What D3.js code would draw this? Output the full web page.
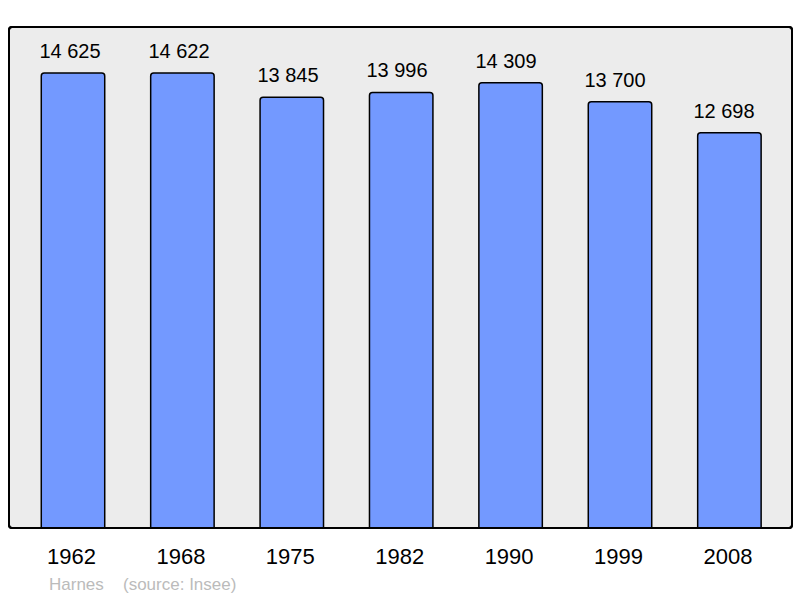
<!DOCTYPE html>
<html><head><meta charset="utf-8">
<script src="https://cdn.jsdelivr.net/npm/d3@7"></script>
<style>body{margin:0;background:#fff;}svg{display:block;font-family:"Liberation Sans",Arial,sans-serif;}</style>
</head><body>
<svg id="c" width="800" height="598"></svg>
<script>
const years = ["1962","1968","1975","1982","1990","1999","2008"];
const population = [14625,14622,13845,13996,14309,13700,12698];
const valueLabels = ["14 625","14 622","13 845","13 996","14 309","13 700","12 698"];
const footerName = "Harnes";
const footerSource = "(source: Insee)";

const svg = d3.select("#c");
const frame = {x0:9, y0:27, x1:792, y1:528};

svg.append("rect").attr("x",frame.x0).attr("y",frame.y0)
  .attr("width",frame.x1-frame.x0).attr("height",frame.y1-frame.y0)
  .attr("rx",3).attr("fill","#ececec").attr("stroke","#000").attr("stroke-width",2);

const x = d3.scaleBand().domain(years).range([18.3,784.1]).paddingInner(0.42).paddingOuter(0.21);
const xLab = d3.scaleBand().domain(years).range([15.5,778.5]).paddingInner(0.42).paddingOuter(0.21);
const y = d3.scaleLinear().domain([0,16100]).range([frame.y1,frame.y0]);

const data = years.map((yr,i)=>({yr, v:population[i], lab:valueLabels[i]}));

svg.selectAll("rect.bar").data(data).join("rect").attr("class","bar")
  .attr("x",d=>x(d.yr)).attr("y",d=>y(d.v))
  .attr("width",x.bandwidth()).attr("height",d=>frame.y1-y(d.v)+3)
  .attr("rx",3).attr("fill","#7399ff").attr("stroke","#000").attr("stroke-width",1.5);

svg.append("rect").attr("x",frame.x0).attr("y",frame.y0)
  .attr("width",frame.x1-frame.x0).attr("height",frame.y1-frame.y0)
  .attr("rx",3).attr("fill","none").attr("stroke","#000").attr("stroke-width",2);
svg.append("rect").attr("x",0).attr("y",frame.y1+1).attr("width",800).attr("height",10).attr("fill","#fff");
svg.append("line").attr("x1",frame.x0+3).attr("x2",frame.x1-3).attr("y1",frame.y1).attr("y2",frame.y1)
  .attr("stroke","#000").attr("stroke-width",2);

svg.selectAll("text.val").data(data).join("text").attr("class","val")
  .attr("x",d=>xLab(d.yr)+xLab.bandwidth()/2).attr("y",d=>y(d.v)-15)
  .attr("text-anchor","middle").attr("font-size",20).attr("fill","#000").text(d=>d.lab);

const xAxis = svg.append("g").attr("transform",`translate(-1.5,${frame.y1})`)
  .call(d3.axisBottom(x).tickSize(0).tickPadding(36));
xAxis.select(".domain").remove();
xAxis.selectAll("text").attr("font-size",22).attr("fill","#000")
  .attr("font-family","Liberation Sans, Arial, sans-serif").attr("dy",0);

svg.append("text").attr("x",49).attr("y",590).attr("font-size",17).attr("fill","#bbbbbb").text(footerName);
svg.append("text").attr("x",123).attr("y",590).attr("font-size",17).attr("fill","#bbbbbb").text(footerSource);
</script>
</body></html>
